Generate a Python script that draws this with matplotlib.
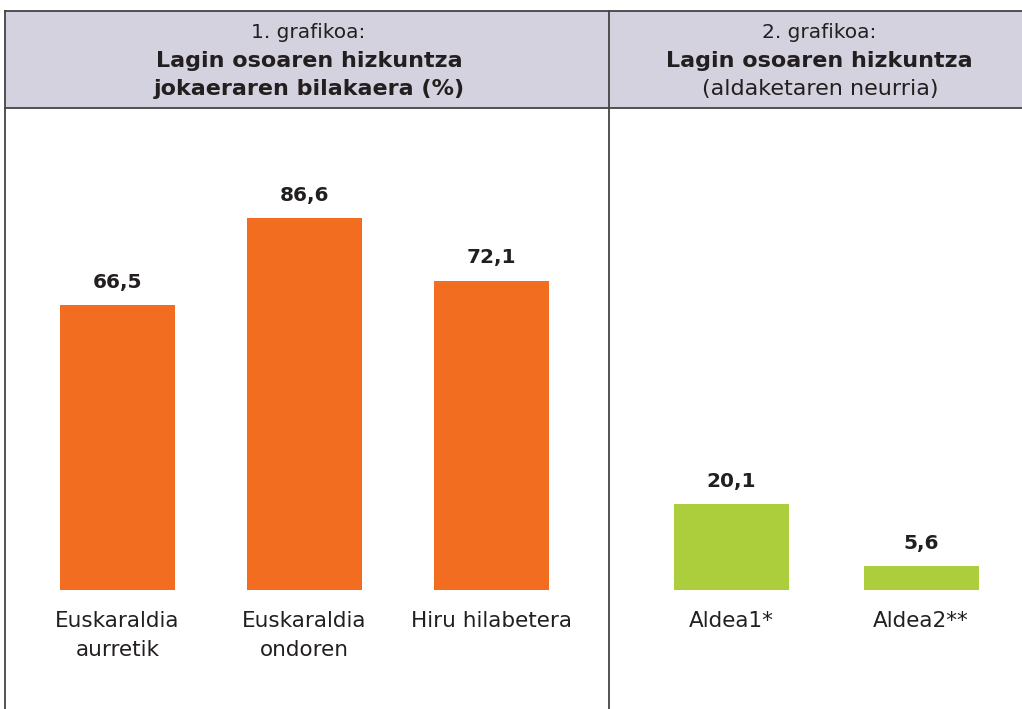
import matplotlib.pyplot as plt
from matplotlib.lines import Line2D
from matplotlib.patches import Rectangle

plt.rcParams['font.family'] = ['DejaVu Sans']

# datuak
cats1 = ["Euskaraldia\naurretik", "Euskaraldia\nondoren", "Hiru hilabetera"]
vals1 = [66.5, 86.6, 72.1]
cats2 = ["Aldea1*", "Aldea2**"]
vals2 = [20.1, 5.6]

ORANGE = "#f36d21"
GREEN = "#acce3c"
HEADER = "#d4d2de"
TXT = "#231f20"
EDGE = "#444444"

W, H = 1022, 709
fig = plt.figure(figsize=(W / 100, H / 100), dpi=100)

def fx(px):
    return px / W

def fy(py):
    return 1 - py / H

# goiburua
top, hb, div = 11, 108, 609
fig.add_artist(Rectangle((fx(5), fy(hb)), fx(W - 5), (hb - top) / H,
                         transform=fig.transFigure, facecolor=HEADER, edgecolor='none', zorder=0))
for xs, ys in [([5, W], [top, top]), ([5, W], [hb, hb]), ([5, 5], [top, H]), ([div, div], [top, H])]:
    fig.add_artist(Line2D([fx(x) for x in xs], [fy(y) for y in ys], transform=fig.transFigure,
                          color=EDGE, lw=1.3, zorder=1))

fig.text(fx(308), fy(32), "1. grafikoa:", ha='center', va='center', fontsize=14.5, color=TXT)
fig.text(fx(309), fy(61), "Lagin osoaren hizkuntza", ha='center', va='center', fontsize=16, fontweight='bold', color=TXT)
fig.text(fx(309), fy(89), "jokaeraren bilakaera (%)", ha='center', va='center', fontsize=16, fontweight='bold', color=TXT)
fig.text(fx(819), fy(32), "2. grafikoa:", ha='center', va='center', fontsize=14.5, color=TXT)
fig.text(fx(819), fy(61), "Lagin osoaren hizkuntza", ha='center', va='center', fontsize=16, fontweight='bold', color=TXT)
fig.text(fx(820), fy(89), "(aldaketaren neurria)", ha='center', va='center', fontsize=16, color=TXT)

# grafikoak: eskala berdina bietan (~4.29 px / unitate)
scale = 4.29
base = 590
ylim = (-(H - base) / scale, (base - hb) / scale)

def panel(x0, x1, c0, step, cats, vals, color):
    ax = fig.add_axes([fx(x0), 0, fx(x1 - x0), (H - hb) / H])
    ax.patch.set_alpha(0)
    pos = list(range(len(vals)))
    ax.bar(pos, vals, width=115 / step, color=color, zorder=2)
    for p, v in zip(pos, vals):
        ax.annotate(f"{v:.1f}".replace('.', ','), (p, v), xytext=(0, 9.5), textcoords='offset points',
                    ha='center', va='bottom', fontsize=14.5, fontweight='bold', color=TXT)
    ax.set_xlim(-(c0 - x0) / step, (x1 - c0) / step)
    ax.set_ylim(*ylim)
    for s in ax.spines.values():
        s.set_visible(False)
    ax.set_yticks([])
    ax.set_xticks([])
    for p, c in zip(pos, cats):
        lines = c.split("\n")
        for i, ln in enumerate(lines):
            ax.text(p, -(621 + 29 * i - base) / scale, ln, ha='center', va='center',
                    fontsize=15.5, color=TXT)
    return ax

panel(5, div, 117.5, 187, cats1, vals1, ORANGE)
panel(div, W, 731, 190, cats2, vals2, GREEN)

fig.savefig("out.png", dpi=100)
